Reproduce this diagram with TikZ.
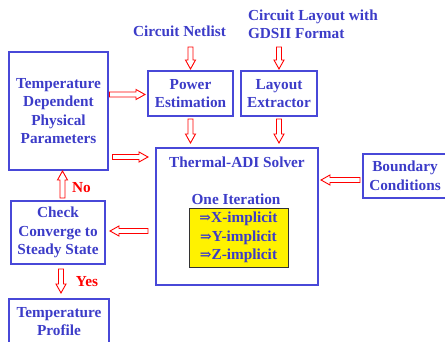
\documentclass[tikz,border=0pt]{standalone}
\usepackage{fontspec}
\setmainfont{Liberation Serif}
\newfontfamily\dvfont{DejaVu Serif}
\usetikzlibrary{calc}
\definecolor{tblue}{HTML}{3C3CC8}
\definecolor{bblue}{HTML}{4848D8}
\definecolor{ared}{HTML}{FF0000}
\newcommand{\impl}{{\dvfont\fontsize{14}{18.5}\selectfont ⇒}}
\begin{document}
\begin{tikzpicture}[x=1pt,y=-1pt,
  every node/.style={inner sep=0pt,outer sep=0pt,text=tblue,align=center,
    font=\fontsize{15.3}{18.5}\selectfont\bfseries},
  box/.style={draw=bblue,line width=1.8pt},
  lbl/.style={},
  barrow/.style={draw=ared,fill=white,line width=0.9pt,line join=miter,
    to path={let \p1=(\tikztostart), \p2=(\tikztotarget),
      \n1={atan2(\y2-\y1,\x2-\x1)}, \n2={veclen(\x2-\x1,\y2-\y1)} in
      ($(\p1)+(\n1+90:2.5pt)$) -- ($(\p1)+(\n1:\n2-9pt)+(\n1+90:2.5pt)$)
      -- ($(\p1)+(\n1:\n2-9pt)+(\n1+90:5pt)$) -- (\p2)
      -- ($(\p1)+(\n1:\n2-9pt)+(\n1-90:5pt)$)
      -- ($(\p1)+(\n1:\n2-9pt)+(\n1-90:2.5pt)$)
      -- ($(\p1)+(\n1-90:2.5pt)$) -- cycle}}]
\useasboundingbox (0,0) rectangle (445,341);

\node[box,minimum width=99pt,minimum height=118pt] (temp) at (58.5,111)
  {Temperature\\Dependent\\Physical\\Parameters};
\node[box,minimum width=85pt,minimum height=45pt] (power) at (190.5,93.5)
  {Power\\Estimation};
\node[box,minimum width=76pt,minimum height=45pt] (layout) at (279,93.5)
  {Layout\\Extractor};
\node[box,minimum width=162pt,minimum height=137pt] (solver) at (237,216.5) {};
\node[box,minimum width=84pt,minimum height=44pt] (bound) at (405,176)
  {Boundary\\Conditions};
\node[box,minimum width=94pt,minimum height=63pt] (check) at (58,232.5)
  {Check\\Converge to\\Steady State};
\node[box,minimum width=100pt,minimum height=45pt] (profile) at (59,321.5)
  {Temperature\\Profile};

\node[lbl] (netlist) at (179.5,31) {Circuit Netlist};
\node[lbl,anchor=west,align=left] (gds) at (248,24.5) {Circuit Layout with\\GDSII Format};
\node[lbl] (title) at (237,162) {Thermal-ADI Solver};
\node[lbl] (iter) at (236,199) {One Iteration};
\node[draw=black!80,line width=1pt,fill=yellow,minimum width=99pt,minimum height=59pt]
  (impl) at (238.5,237.5) {\impl X-implicit\\\impl Y-implicit\\\impl Z-implicit};
\node[lbl,text=ared] (no) at (81.5,188) {No};
\node[lbl,text=ared] (yes) at (87,282) {Yes};

\draw[barrow] (power.north |- 0,47) to ([yshift=2pt]power.north);
\draw[barrow] (layout.north |- 0,47) to ([yshift=2pt]layout.north);
\draw[barrow] ([xshift=1.5pt]temp.east |- 0,94.5) to ([xshift=-3pt]power.west |- 0,94.5);
\draw[barrow] ([xshift=4.5pt]temp.east |- 0,157) to ([xshift=-8pt]solver.west |- 0,157);
\draw[barrow] ([yshift=-3pt]power.south) to (power.south |- 0,143);
\draw[barrow] ([yshift=-3pt]layout.south) to (layout.south |- 0,143);
\draw[barrow] ([xshift=-3pt]bound.west |- 0,180) to ([xshift=3pt]solver.east |- 0,180);
\draw[barrow] ([xshift=-8pt]solver.west |- 0,231) to ([xshift=5pt]check.east |- 0,231);
\draw[barrow] ([xshift=4.5pt,yshift=3pt]check.north) to ([xshift=4pt,yshift=-1pt]temp.south);
\draw[barrow] ([xshift=3pt,yshift=-5pt]check.south) to ([xshift=2pt,yshift=6pt]profile.north);
\end{tikzpicture}
\end{document}
